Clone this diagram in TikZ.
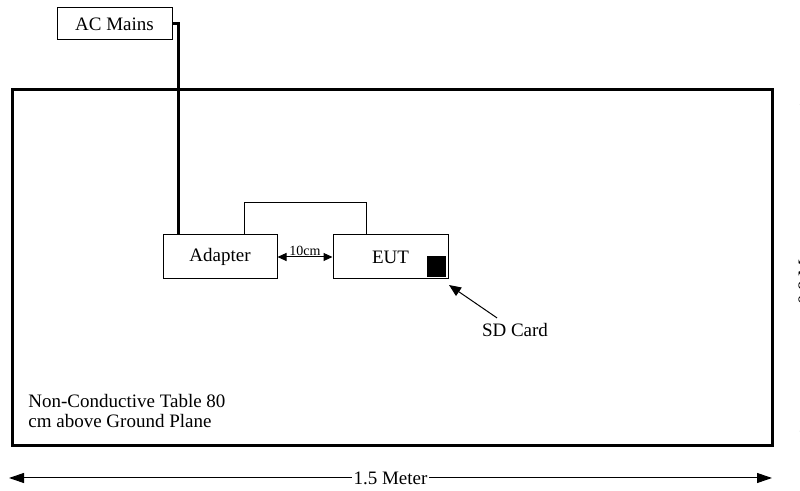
\documentclass[tikz,border=0pt]{standalone}
\usepackage{fontspec}
\setmainfont{Liberation Serif}
\usetikzlibrary{arrows.meta,positioning,calc}
\tikzset{
  unitbox/.style={draw=black,fill=white,line width=0.5pt,inner sep=0pt,
                  font=\fontsize{9.5}{10}\selectfont},
  plainlabel/.style={inner sep=0pt,font=\fontsize{9.5}{10}\selectfont},
  leadline/.style={line width=1.5pt},
  thinline/.style={line width=0.5pt},
  dimarr/.style={{Triangle[length=7.5pt,width=5pt]}-{Triangle[length=7.5pt,width=5pt]},line width=0.5pt},
  gaparr/.style={{Triangle[length=4.5pt,width=4pt]}-{Triangle[length=4.5pt,width=4pt]},line width=0.5pt},
  ptrarr/.style={-{Triangle[length=6pt,width=5pt]},line width=0.5pt}
}
\begin{document}
\begin{tikzpicture}[x=0.5pt,y=-0.5pt]
  \useasboundingbox (0,0) rectangle (800,491);
  % table
  \draw[line width=1.5pt] (12,90) rectangle (772,446);
  \node[plainlabel,anchor=west,align=left] (tablelbl) at (28,411.5)
    {Non-Conductive Table 80\\cm above Ground Plane};
  % units
  \node[unitbox,minimum width=57.5pt,minimum height=16pt] (mains) at (114.5,24) {AC Mains};
  \node[unitbox,minimum width=57pt,minimum height=22pt] (adapter) at (220,257) {Adapter};
  \node[unitbox,minimum width=57.5pt,minimum height=22pt] (eut) at (390.5,257) {EUT};
  \node[fill=black,inner sep=0pt,minimum width=9.5pt,minimum height=10.5pt] (sdcard) at (436.5,266.5) {};
  % cables
  \draw[leadline] (mains.east) -| (adapter.north west -| 178,0);
  \draw[thinline] (adapter.north west -| 244,0) |- (366,203) -- (eut.north west -| 366,0);
  \draw[gaparr] (adapter.east) -- node[above,inner sep=0.5pt,font=\fontsize{7}{8}\selectfont] {10cm} (eut.west);
  % sd card pointer
  \node[plainlabel] (sdlbl) at (515,330) {SD Card};
  \coordinate (sdtip) at (449,285);
  \draw[ptrarr] ($(sdlbl.north)+(-18,-5)$) -- (sdtip);
  % dimensions
  \coordinate (wl) at (9,478);
  \coordinate (wr) at (772,478);
  \draw[dimarr] (wl) -- node[plainlabel,fill=white,inner xsep=1pt] {1.5 Meter} (wr);
  \coordinate (ht) at (805,90);
  \coordinate (hb) at (805,446);
  \draw[dimarr] (ht) -- node[plainlabel,fill=white,rotate=90,inner xsep=1pt] {0.8 Meter} (hb);
\end{tikzpicture}
\end{document}
